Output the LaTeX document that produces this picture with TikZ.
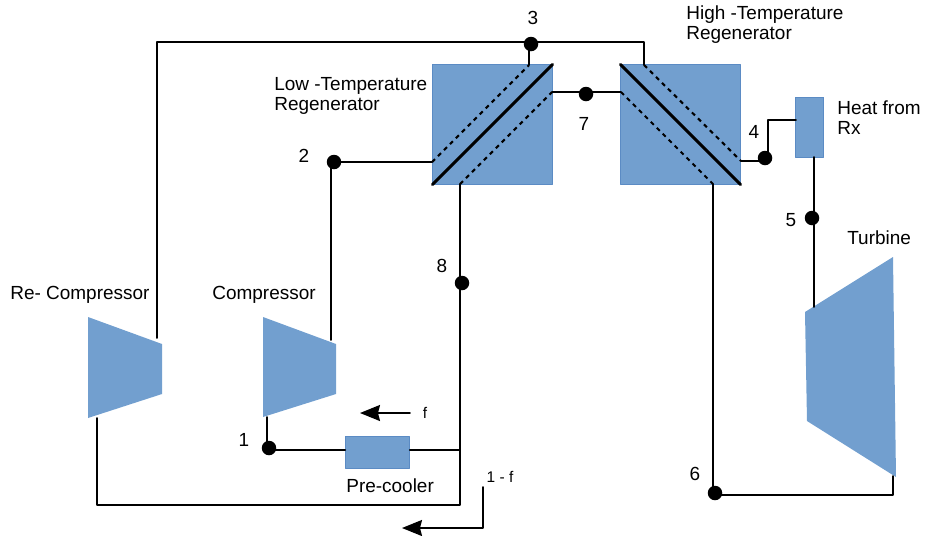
\documentclass[tikz,border=0pt]{standalone}
\usepackage{fontspec}
\setmainfont{Liberation Sans}
\usetikzlibrary{calc,arrows.meta}
\definecolor{blockblue}{HTML}{729FCF}
\definecolor{blockedge}{HTML}{5B8BC4}
\tikzset{
	block/.style={fill=blockblue,draw=blockedge,line width=0.4pt,inner sep=0pt},
	pipe/.style={line width=1.1pt},
	dotline/.style={line width=1.2pt,line cap=butt,dash pattern=on 2.4pt off 2.4pt},
	dot/.style={circle,fill=black,inner sep=0pt,minimum size=0.29cm},
	lbl/.style={inner sep=0pt,font=\fontsize{10.8}{11.4}\selectfont,align=left},
	small/.style={inner sep=0pt,font=\fontsize{8.8}{9}\selectfont},
	flow/.style={line width=1pt,-{Stealth[length=0.4cm,width=0.32cm,inset=0.04cm]}}
}
\begin{document}
\begin{tikzpicture}[x=0.02cm,y=-0.02cm,line join=round,line cap=round]
	\useasboundingbox (0,0) rectangle (934,535);
	% Khoi
	\node[block,minimum width=2.39cm,minimum height=2.39cm] (LT) at (492.5,124.5) {};
	\node[block,minimum width=2.39cm,minimum height=2.39cm] (HT) at (680.5,124.5) {};
	\node[block,minimum width=0.56cm,minimum height=1.2cm] (Rx) at (809.5,127) {};
	\node[block,minimum width=1.28cm,minimum height=0.64cm] (PC) at (377.5,452.5) {};
	\coordinate (R1) at (88,317);
	\coordinate (R2) at (162,344);
	\coordinate (R3) at (162,394);
	\coordinate (R4) at (88,418);
	\coordinate (C1) at (263,317);
	\coordinate (C2) at (336,344);
	\coordinate (C3) at (336,394);
	\coordinate (C4) at (263,417);
	\coordinate (T1) at (805,312);
	\coordinate (T2) at (893,257);
	\coordinate (T3) at (896,477);
	\coordinate (T4) at (807,421);
	\fill[blockblue] (R1)--(R2)--(R3)--(R4)--cycle;
	\fill[blockblue] (C1)--(C2)--(C3)--(C4)--cycle;
	\fill[blockblue] (T1)--(T2)--(T3)--(T4)--cycle;
	% Cac diem
	\node[dot] (p1) at (269,448) {};
	\node[dot] (p2) at (334,162) {};
	\node[dot] (p3) at (531,44) {};
	\node[dot] (p4) at (765,158) {};
	\node[dot] (p5) at (812,218) {};
	\node[dot] (p6) at (715,493) {};
	\node[dot] (p7) at (586,94) {};
	\node[dot] (p8) at (462,283) {};
	% Duong ong
	\coordinate (a1) at (157,338);
	\coordinate (a2) at (157,42);
	\coordinate (a3) at (644,42);
	\coordinate (a4) at (644,65);
	\draw[pipe] (a1)--(a2)--(a3)--(a4);
	\coordinate (b1) at (529,44);
	\coordinate (b2) at (529,65);
	\draw[pipe] (b1)--(b2);
	\coordinate (c1) at (331,340);
	\coordinate (c2) at (331,162);
	\coordinate (c3) at (432,162);
	\draw[pipe] (c1)--(c2)--(c3);
	\coordinate (d1) at (460,184);
	\coordinate (d2) at (460,505);
	\coordinate (d3) at (97,505);
	\coordinate (d4) at (97,418);
	\draw[pipe] (d1)--(d2)--(d3)--(d4);
	\coordinate (e1) at (267,417);
	\coordinate (e2) at (267,450);
	\coordinate (e3) at (460,450);
	\draw[pipe] (e1)--(e2)--(PC.west|-e2);
	\draw[pipe] (PC.east|-e3)--(e3);
	\coordinate (f1) at (552,92);
	\coordinate (f2) at (621,92);
	\draw[pipe] (f1)--(f2);
	\coordinate (g1) at (741,161);
	\coordinate (g2) at (768,161);
	\coordinate (g3) at (768,120);
	\coordinate (g4) at (796,120);
	\draw[pipe] (g1)--(g2)--(g3)--(g4);
	\coordinate (h1) at (814,157);
	\coordinate (h2) at (814,307);
	\draw[pipe] (h1)--(h2);
	\coordinate (i1) at (713,184);
	\coordinate (i2) at (713,495);
	\coordinate (i3) at (893,495);
	\coordinate (i4) at (893,476);
	\draw[pipe] (i1)--(i2)--(i3)--(i4);
	% Duong cheo
	\draw[line width=1.8pt] (LT.south west)--(LT.north east);
	\draw[line width=1.8pt] (HT.north west)--(HT.south east);
	\draw[dotline] (c3)--(b2);
	\draw[dotline] (d1)--(f1);
	\draw[dotline] (a4)--(g1);
	\draw[dotline] (f2)--(i1);
	% Mui ten
	\coordinate (m1) at (410,413);
	\coordinate (m2) at (360,413);
	\draw[flow] (m1)--(m2);
	\coordinate (n1) at (483,487);
	\coordinate (n2) at (483,528);
	\coordinate (n3) at (402,528);
	\draw[flow] (n1)--(n2)--(n3);
	% Nhan
	\node[small] (tf) at (425,413) {f};
	\node[small] (tg) at (500,477) {1 - f};
	\node[lbl,anchor=west] (tL) at (274,96) {Low -Temperature\\Regenerator};
	\node[lbl,anchor=west] (tH) at (686,25) {High -Temperature\\Regenerator};
	\node[lbl,anchor=west] (tQ) at (837,118) {Heat from\\Rx};
	\node[lbl,anchor=west] (tR) at (10,295) {Re- Compressor};
	\node[lbl,anchor=west] (tC) at (212,295) {Compressor};
	\node[lbl,anchor=west] (tT) at (847,238) {Turbine};
	\node[lbl,anchor=west] (tP) at (346,486) {Pre-cooler};
	\node[lbl] (n1t) at (244,440) {1};
	\node[lbl] (n2t) at (304,156) {2};
	\node[lbl] (n3t) at (533,18) {3};
	\node[lbl] (n4t) at (754,132) {4};
	\node[lbl] (n5t) at (791,220) {5};
	\node[lbl] (n6t) at (695,474) {6};
	\node[lbl] (n7t) at (584,124) {7};
	\node[lbl] (n8t) at (442,266) {8};
\end{tikzpicture}
\end{document}
